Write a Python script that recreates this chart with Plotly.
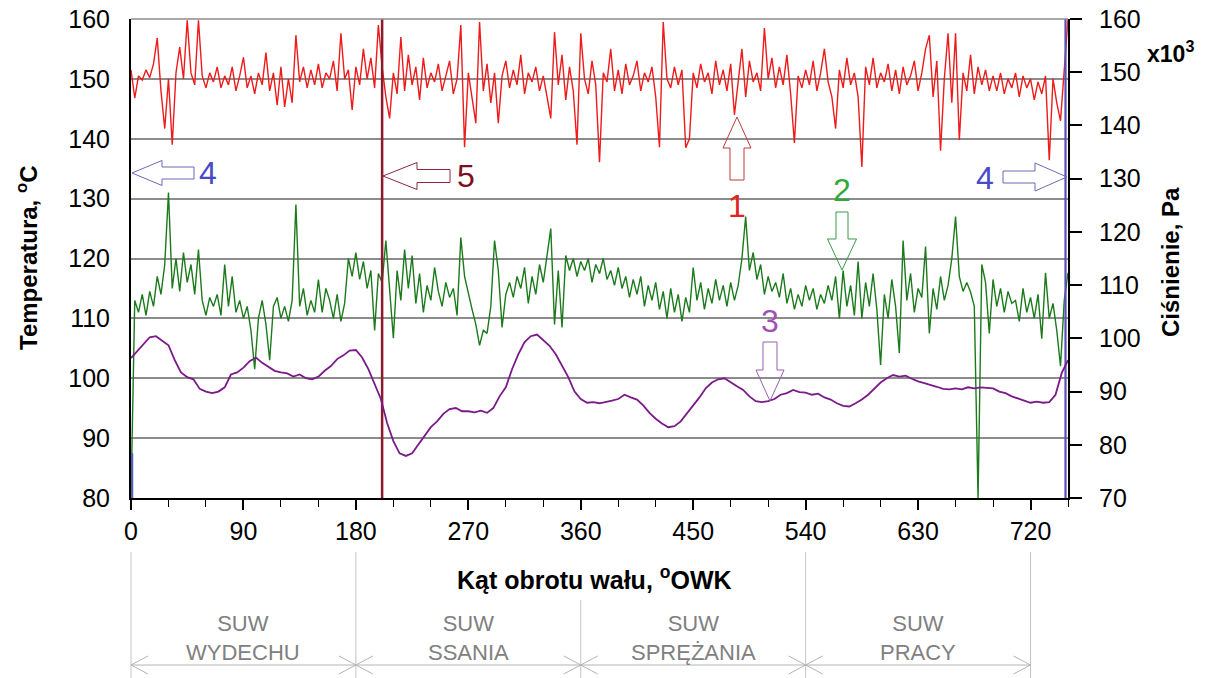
import plotly.graph_objects as go

# ---------------- data ----------------
# crank angle grid (deg) for temperature traces: 0..750 step 3
ANG_START, ANG_STEP = 0, 3
# Trace 1 (red) - temperature, degC
T1 = [
    151.5, 146.8, 150.5, 149.8, 151.5, 150.2, 152.5, 156.8, 148, 141.7,
    150, 139, 151, 155.3, 150, 159.8, 151, 149, 159.8, 150.5,
    148.5, 151, 149.5, 152, 148.5, 150.5, 149, 152, 148, 150.5,
    153.6, 148.5, 150.5, 147.5, 151, 149, 154.4, 148, 151, 145.6,
    152, 145.3, 150, 146, 157.3, 149.5, 152, 148.5, 151.5, 149,
    152.5, 148.5, 151, 150, 153, 148, 157.6, 150, 151.5, 144.8,
    152, 149, 155, 150, 153.5, 148.5, 159, 152, 147, 143.4,
    151, 147.5, 157, 148, 154, 149, 152, 146.5, 153.5, 148.5,
    151, 149.5, 152.5, 148, 150.5, 153, 147.5, 150, 159, 138.6,
    151, 147, 142.6, 159.5, 148, 152.5, 146, 151, 142.6, 150.5,
    153, 148.5, 151.5, 149, 154, 147.5, 151, 149.5, 152, 148,
    150.5, 147, 143.4, 157.8, 149, 154, 146.5, 152, 148, 139,
    157.6, 150, 147.5, 153, 149, 136.1, 151, 149.5, 155, 148,
    151.5, 147.5, 152.5, 149, 150.5, 153, 148, 151, 149.5, 152,
    147, 138.6, 159.5, 150, 148.5, 152, 149, 151.5, 138.5, 140,
    151, 148.5, 152.5, 149.5, 151, 147.5, 153, 149, 151.5, 148,
    152.5, 144, 150, 155, 147, 153, 149.5, 151, 148, 158.5,
    150, 153.5, 148.5, 152, 149, 154, 147.5, 139.3, 150.5, 148.5,
    151.5, 149, 153, 148, 151, 155, 149.5, 147, 141.7, 151.5,
    148.5, 153.5, 149, 151, 147, 135.3, 152, 149, 153.5, 148.5,
    151, 149.5, 152.5, 148, 151.5, 147.5, 152, 149, 150.5, 153,
    148, 151, 155, 157.3, 147, 153, 138, 150, 157.6, 146,
    157.6, 139.8, 151, 148, 154, 147.5, 152, 149, 151.5, 148,
    150.5, 148, 151, 147.5, 150, 148.5, 151, 147, 150.5, 148.5,
    150, 146.5, 149.5, 147.5, 150.5, 136.4, 150, 146, 143, 152,
    160,
]
# Trace 2 (green) - temperature, degC
T2 = [
    80, 113, 111, 114, 110.5, 114.5, 112, 117, 114, 119,
    131, 115, 120, 114.5, 121, 116, 119, 114, 121.5, 113,
    110.5, 113.5, 112, 114, 110.5, 119, 112, 117, 111, 113,
    110, 112, 108, 101.5, 110, 113, 109, 103, 112, 113.5,
    110, 112, 109.5, 113, 129, 112, 115, 110.5, 113, 111,
    116.5, 111, 115, 113, 110, 114, 109.5, 112.5, 120, 117,
    121, 116.5, 119.5, 115, 118, 108, 117.5, 116, 123, 115.5,
    106.7, 118, 113, 121.5, 115, 120.5, 112.5, 117.5, 111, 115.5,
    113, 118.5, 114.5, 112, 116, 113.5, 115, 110.5, 123.5, 117,
    114, 111.5, 109, 105.5, 108, 107.5, 112, 123, 118, 108.5,
    114, 116, 113.5, 117, 115, 118.5, 112.5, 117, 114, 119,
    116, 121, 125, 109, 118, 108.5, 120.5, 118, 120, 117,
    119.5, 118, 120, 116, 119, 117.5, 120, 116.5, 118, 115.5,
    118.5, 115, 117, 113.5, 116.5, 114, 117, 112, 115.5, 113,
    116, 111.5, 114.5, 110, 115, 111, 114, 109.5, 113.5, 111,
    118.5, 113, 116, 111.5, 115, 112.5, 116.5, 113, 115.5, 112,
    116, 113, 115.5, 120, 127, 118, 121, 116.5, 119, 114,
    117, 114.5, 116, 113.5, 117.5, 112.5, 115, 111.5, 114, 112,
    115.5, 113, 115, 111.5, 114, 112.5, 115.5, 113, 117, 110,
    118, 112, 115.5, 110.5, 119.5, 110, 116, 112, 117.5, 111.5,
    102.2, 114, 110, 116.5, 112, 104.2, 123, 113, 117.5, 111,
    115, 113.5, 122, 107.5, 115, 111.5, 117, 113, 115.5, 120,
    127, 117, 114.5, 116, 114.4, 112, 80, 119, 116, 107.5,
    116.5, 112, 115, 111, 114.5, 112.5, 113, 109.5, 115, 111,
    113.5, 110, 114, 106.6, 117.6, 110, 112.5, 108, 102, 113,
    117.6,
]
# Trace 3 (purple) - pressure, x10^3 Pa, angle grid 0..750 step 5
P_START, P_STEP = 0, 5
P3 = [
    96.3, 97.6, 99.0, 100.2, 100.4, 99.6, 98.7, 95.9, 93.6, 92.7,
    92.3, 90.5, 90.0, 89.7, 90.0, 90.8, 93.2, 93.6, 94.5, 95.7,
    96.4, 95.4, 94.6, 93.9, 93.6, 93.4, 92.8, 93.2, 92.5, 92.3,
    92.8, 93.9, 94.8, 96.1, 96.8, 97.7, 97.8, 96.4, 94.2, 91.4,
    88.6, 84.1, 80.7, 78.4, 77.9, 78.4, 80.1, 81.8, 83.3, 84.4,
    85.8, 86.7, 86.9, 86.3, 86.3, 86.1, 86.4, 86.0, 86.9, 89.1,
    90.8, 94.2, 97.0, 99.3, 100.4, 100.7, 99.6, 98.6, 97.0, 94.8,
    92.7, 90.0, 88.6, 87.9, 88.0, 87.8, 88.0, 88.3, 88.6, 89.4,
    88.9, 88.5, 87.4, 86.0, 84.9, 84.0, 83.3, 83.5, 84.4, 85.8,
    87.4, 88.9, 90.6, 91.7, 92.3, 92.5, 91.7, 91.0, 90.3, 89.1,
    88.2, 88.0, 88.2, 88.6, 89.4, 89.7, 90.3, 89.9, 89.8, 89.4,
    89.6, 88.9, 88.5, 87.8, 87.3, 87.2, 87.8, 88.5, 89.4, 90.5,
    91.7, 92.5, 93.1, 92.8, 93.0, 92.4, 91.9, 91.6, 91.3, 90.9,
    90.5, 90.4, 90.6, 90.4, 90.8, 90.6, 90.8, 90.7, 90.6, 90.0,
    89.7, 89.1, 88.7, 88.2, 87.9, 88.1, 87.9, 88.0, 89.4, 93.5,
    95.9,
]
# marker lines
MARK5_ANGLE = 201        # line 5
MARK4_ANGLE = 748        # line 4 (right)
MARK4L_ANGLE = 1         # short line 4 at start
MARK4L_TOP = 87.5

X_TICKS = [0, 90, 180, 270, 360, 450, 540, 630, 720]
STROKES = ["SUW<br>WYDECHU", "SUW<br>SSANIA", "SUW<br>SPRĘŻANIA", "SUW<br>PRACY"]
STROKE_BOUNDS = [0, 180, 360, 540, 720]

X1 = [ANG_START + ANG_STEP * i for i in range(len(T1))]
X2 = [ANG_START + ANG_STEP * i for i in range(len(T2))]
XP = [P_START + P_STEP * i for i in range(len(P3))]

# ---------------- figure ----------------
FONT = "Liberation Sans, Arial, sans-serif"
L, R, T, B = 131, 1068, 19, 498
W, H = 1210, 678
XMAX = 750


def P(px, py):
    return ((px - L) / (R - L), (B - py) / (B - T))


def path(points, close=True):
    s = ""
    for k, (px, py) in enumerate(points):
        x, y = P(px, py)
        s += ("M" if k == 0 else "L") + f"{x:.5f},{y:.5f} "
    return s + ("Z" if close else "")


def block_arrow(tx, ty, d, total, hl, hhw, shw):
    dx, dy = {"left": (1, 0), "right": (-1, 0), "up": (0, 1), "down": (0, -1)}[d]
    nx, ny = -dy, dx
    pts = [
        (tx, ty),
        (tx + dx * hl + nx * hhw, ty + dy * hl + ny * hhw),
        (tx + dx * hl + nx * shw, ty + dy * hl + ny * shw),
        (tx + dx * total + nx * shw, ty + dy * total + ny * shw),
        (tx + dx * total - nx * shw, ty + dy * total - ny * shw),
        (tx + dx * hl - nx * shw, ty + dy * hl - ny * shw),
        (tx + dx * hl - nx * hhw, ty + dy * hl - ny * hhw),
    ]
    return path(pts)


fig = go.Figure()
fig.add_trace(go.Scatter(x=X1, y=T1, mode="lines", line=dict(color="#ee1b1b", width=1.4)))
fig.add_trace(go.Scatter(x=X2, y=T2, mode="lines", line=dict(color="#1c7a1c", width=1.4)))
fig.add_trace(go.Scatter(x=XP, y=P3, mode="lines", yaxis="y2", line=dict(color="#7a1a88", width=1.8)))
fig.add_trace(go.Scatter(x=[MARK5_ANGLE, MARK5_ANGLE], y=[80, 160], mode="lines",
                         line=dict(color="#8a1a2c", width=2.5)))
fig.add_trace(go.Scatter(x=[MARK4_ANGLE, MARK4_ANGLE], y=[80, 160], mode="lines",
                         line=dict(color="#5a4fb8", width=2.2)))
fig.add_trace(go.Scatter(x=[MARK4L_ANGLE, MARK4L_ANGLE], y=[80, MARK4L_TOP], mode="lines",
                         line=dict(color="#5a5ab8", width=2)))

shapes = []
# top border
shapes.append(dict(type="line", xref="paper", yref="paper", x0=0, x1=1, y0=1, y1=1,
                   line=dict(color="#8c8c8c", width=1.5)))

# block arrows: (tip_x, tip_y, dir, total, head_len, head_halfw, shaft_halfw, color)
arrows = [
    (132, 173, "left", 62, 30, 12.5, 6, "#6a6ab8"),
    (383, 176, "left", 67, 34, 13.5, 6.5, "#8a2a3a"),
    (737, 117, "up", 63, 31, 14, 7, "#c03a3a"),
    (842, 270, "down", 58, 31, 14.5, 6, "#3a9a4a"),
    (770, 401, "down", 59, 31, 14, 7, "#9a60aa"),
    (1067, 177, "right", 64, 32, 14, 6, "#6a6ab8"),
]
for (tx, ty, d, tot, hl, hhw, shw, col) in arrows:
    shapes.append(dict(type="path", xref="paper", yref="paper",
                       path=block_arrow(tx, ty, d, tot, hl, hhw, shw),
                       line=dict(color=col, width=1), fillcolor="rgba(255,255,255,0)"))

# stroke section below the axis
GRAY = "#c4c4c4"
for a in STROKE_BOUNDS:
    px = L + (R - L) * a / XMAX
    top = 600 if a == 360 else 552
    x0, y0 = P(px, top)
    x1, y1 = P(px, 678)
    shapes.append(dict(type="line", xref="paper", yref="paper", x0=x0, x1=x1, y0=y0, y1=y1,
                       line=dict(color=GRAY, width=1)))
ya = 665
xa0 = L + (R - L) * STROKE_BOUNDS[0] / XMAX
xa1 = L + (R - L) * STROKE_BOUNDS[-1] / XMAX
x0, y0 = P(xa0, ya)
x1, y1 = P(xa1, ya)
shapes.append(dict(type="line", xref="paper", yref="paper", x0=x0, x1=x1, y0=y0, y1=y1,
                   line=dict(color="#b4b4b4", width=1)))
for i in range(len(STROKE_BOUNDS) - 1):
    pa = L + (R - L) * STROKE_BOUNDS[i] / XMAX
    pb = L + (R - L) * STROKE_BOUNDS[i + 1] / XMAX
    shapes.append(dict(type="path", xref="paper", yref="paper",
                       path=path([(pa + 17, ya - 9), (pa, ya), (pa + 17, ya + 9)], close=False),
                       line=dict(color="#b4b4b4", width=1)))
    shapes.append(dict(type="path", xref="paper", yref="paper",
                       path=path([(pb - 17, ya - 9), (pb, ya), (pb - 17, ya + 9)], close=False),
                       line=dict(color="#b4b4b4", width=1)))

ann = []


def text(px, py, s, size, color="black", bold=False, angle=0):
    x, y = P(px, py)
    if bold:
        s = f"<b>{s}</b>"
    ann.append(dict(x=x, y=y, xref="paper", yref="paper", text=s, showarrow=False,
                    xanchor="center", yanchor="middle", textangle=angle,
                    font=dict(family=FONT, size=size, color=color)))


text(27, 258, "Temperatura, <sup>o</sup>C", 24, bold=True, angle=-90)
text(1170, 262, "Ciśnienie, Pa", 24, bold=True, angle=-90)
text(1170, 52, "x10<sup>3</sup>", 23, bold=True)
text(594, 578, "Kąt obrotu wału, <sup>o</sup>OWK", 25, bold=True)
for i, s in enumerate(STROKES):
    pa = L + (R - L) * STROKE_BOUNDS[i] / XMAX
    pb = L + (R - L) * STROKE_BOUNDS[i + 1] / XMAX
    text((pa + pb) / 2, 638, s, 22, color="#808080")

text(208, 173, "4", 32, color="#4a4ac8")
text(466, 176, "5", 32, color="#7a1020")
text(737, 206, "1", 32, color="#e02424")
text(842, 190, "2", 32, color="#30a83a")
text(770, 321, "3", 32, color="#a050b4")
text(985, 178, "4", 32, color="#4a4ac8")

fig.update_layout(
    width=W, height=H,
    margin=dict(l=L, r=W - R, t=T, b=H - B, pad=0, autoexpand=False),
    paper_bgcolor="white", plot_bgcolor="white",
    showlegend=False,
    font=dict(family=FONT, color="black"),
    xaxis=dict(range=[0, XMAX], tickmode="array", tickvals=X_TICKS, automargin=False,
               ticks="outside", ticklen=10, tickwidth=2, tickcolor="black",
               showline=True, linecolor="black", linewidth=2,
               showgrid=False, zeroline=False, tickfont=dict(size=25, family=FONT),
               minor=dict(dtick=30, tick0=0, ticks="outside", ticklen=7, tickwidth=1,
                          tickcolor="black", showgrid=False)),
    yaxis=dict(range=[80, 160], dtick=10, tick0=80, showgrid=True, gridcolor="#8c8c8c",
               gridwidth=1.5, showline=True, linecolor="black", linewidth=2, automargin=False,
               ticks="", zeroline=False, tickfont=dict(size=25, family=FONT),
               ticklabelstandoff=14),
    yaxis2=dict(range=[70, 160], dtick=10, tick0=70, overlaying="y", side="right",
                showgrid=False, showline=True, linecolor="black", linewidth=2, automargin=False,
                ticks="outside", ticklen=12, tickwidth=1.5, tickcolor="black",
                zeroline=False, tickfont=dict(size=25, family=FONT), ticklabelstandoff=12),
    shapes=shapes,
    annotations=ann,
)

fig.write_html("out.html", config={"displayModeBar": False},
               post_script="document.body.style.margin='0px';document.body.style.overflow='hidden';")
